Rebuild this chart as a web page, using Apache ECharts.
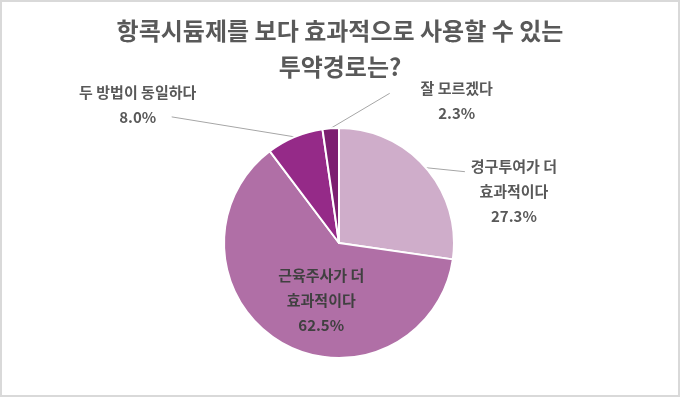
<!DOCTYPE html>
<html>
<head>
<meta charset="utf-8">
<script src="https://cdn.jsdelivr.net/npm/echarts@6/dist/echarts.min.js"></script>
<style>
  html, body { margin: 0; padding: 0; background: #fff; }
  .piechart {
    width: 680px;
    height: 397px;
    box-sizing: border-box;
    border: 2px solid #d9d9d9;
  }
</style>
</head>
<body>
<div class="piechart" id="piechart"></div>
<script>
// 데이터
var categories = ['경구투여가 더\n효과적이다', '근육주사가 더\n효과적이다', '두 방법이 동일하다', '잘 모르겠다'];
var values = [27.3, 62.5, 8.0, 2.3];
var colors = ['#cfadca', '#b06fa6', '#952a88', '#7c1f70'];

// 바깥 라벨 위치 (조각 가장자리 기준 오프셋) : [라벨dx, 라벨dy, 선dx, 선dy]
var labelOffsets = {
  0: [88, -14, 39, 4],
  2: [-157, -57, -123, -20],
  3: [126, -53, 59, -35]
};

var myChart = echarts.init(document.getElementById('piechart'));

var pieData = categories.map(function (name, i) {
  var item = {
    name: name,
    value: values[i],
    itemStyle: { color: colors[i] }
  };
  if (i === 1) {
    item.label = { position: 'inside', color: '#404040' };
    item.labelLine = { show: false };
  }
  return item;
});

var options = {
  animation: false,
  title: {
    text: '항콕시듐제를 보다 효과적으로 사용할 수 있는\n투약경로는?',
    left: 'center',
    top: 6,
    textStyle: {
      color: '#595959',
      fontSize: 24,
      fontWeight: 'bold',
      lineHeight: 36,
      fontFamily: '"Noto Sans CJK KR", sans-serif'
    }
  },
  series: [{
    type: 'pie',
    center: [337, 241],
    radius: 115,
    startAngle: 90,
    clockwise: true,
    data: pieData,
    itemStyle: {
      borderColor: '#ffffff',
      borderWidth: 2
    },
    label: {
      show: true,
      color: '#595959',
      fontSize: 15,
      fontWeight: 'bold',
      lineHeight: 25,
      align: 'center',
      fontFamily: '"Noto Sans CJK KR", sans-serif',
      formatter: function (p) {
        return p.name + '\n' + p.value.toFixed(1) + '%';
      }
    },
    labelLine: {
      show: true,
      length: 10,
      length2: 10,
      lineStyle: { color: '#a6a6a6', width: 1 }
    },
    labelLayout: function (params) {
      if (params.dataIndex === 1) {
        return { dx: 13, dy: 5 };
      }
      var off = labelOffsets[params.dataIndex];
      if (!off || !params.labelLinePoints) return {};
      var p0 = params.labelLinePoints[0];
      return {
        x: p0[0] + off[0],
        y: p0[1] + off[1],
        align: 'center',
        verticalAlign: 'top',
        labelLinePoints: [[p0[0], p0[1]], [p0[0] + off[2], p0[1] + off[3]]]
      };
    }
  }]
};

myChart.setOption(options);
</script>
</body>
</html>
